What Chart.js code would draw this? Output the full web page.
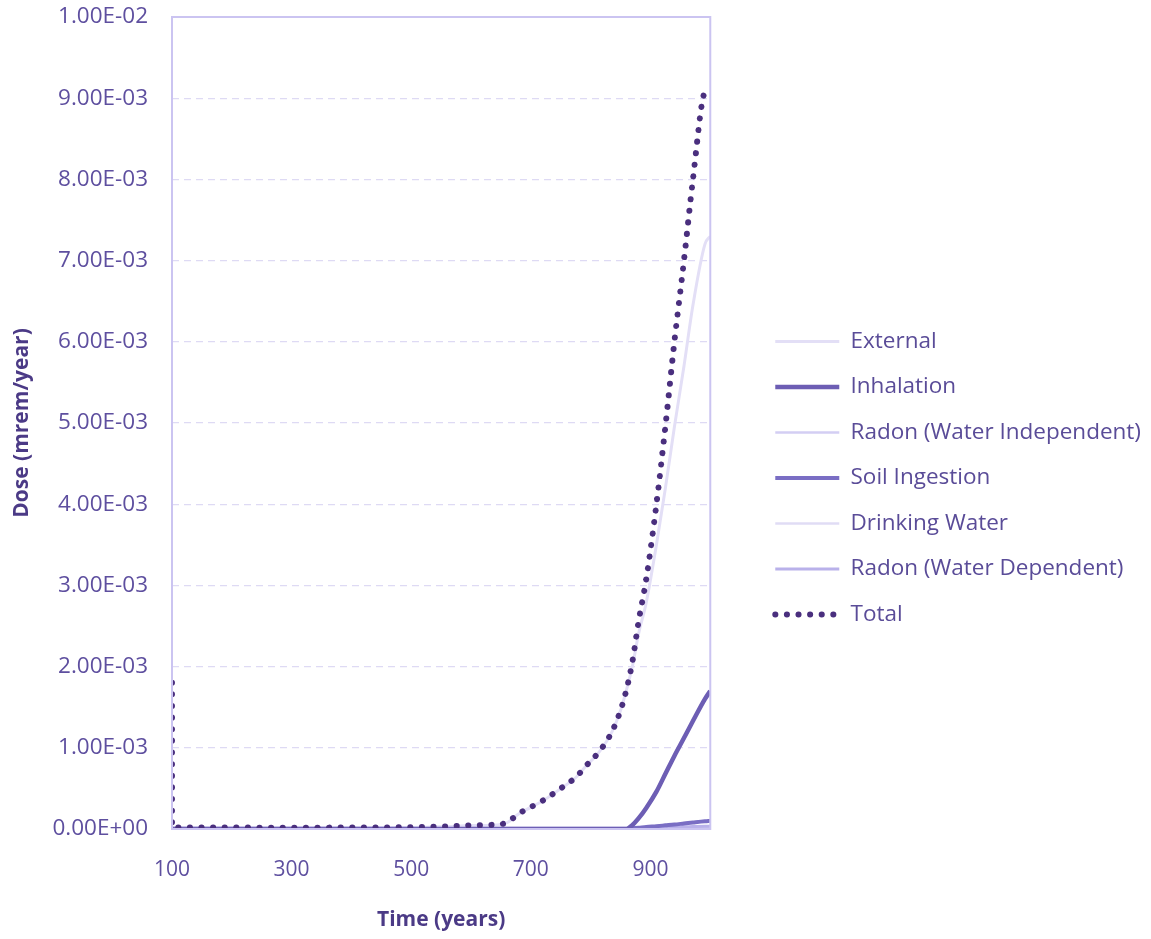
<!DOCTYPE html>
<html>
<head>
<meta charset="utf-8">
<script src="https://cdn.jsdelivr.net/npm/chart.js@4.4.0/dist/chart.umd.min.js"></script>
<style>
  html, body { margin: 0; padding: 0; background: #ffffff; }
  #wrap { width: 1151px; height: 939px; }
</style>
</head>
<body>
<div id="wrap"><canvas id="c" width="1151" height="939"></canvas></div>
<script>
// ---- data ----
const years = [100, 100, 200, 300, 400, 500, 550, 600, 650, 660, 680, 700, 720, 750, 777, 790, 815, 835, 849, 860, 870, 880, 893, 910, 925, 940, 956, 971, 991, 1000];

const external = [1.5e-5, 1.5e-5, 1.4e-5, 1.3e-5, 1.5e-5, 1.9e-5, 2.7e-5, 4.2e-5, 5.7e-5, 7.7e-5, 1.87e-4, 2.67e-4, 3.47e-4, 4.97e-4, 6.47e-4, 7.57e-4, 9.57e-4, 1.187e-3, 1.437e-3, 1.717e-3, 2.01e-3, 2.4e-3, 2.79e-3, 3.5e-3, 4.2e-3, 4.95e-3, 5.7e-3, 6.45e-3, 7.2e-3, 7.3e-3];
const inhalation = [0, 0, 0, 0, 0, 0, 0, 0, 0, 0, 0, 0, 0, 0, 0, 0, 0, 0, 0, 0, 5e-5, 1.3e-4, 2.6e-4, 4.6e-4, 6.8e-4, 9.0e-4, 1.12e-3, 1.33e-3, 1.6e-3, 1.7e-3];
const radonWI = [8e-6, 8e-6, 8e-6, 8e-6, 8e-6, 8e-6, 8e-6, 8e-6, 8e-6, 8e-6, 8e-6, 8e-6, 8e-6, 8e-6, 8e-6, 8e-6, 8e-6, 8e-6, 8e-6, 8e-6, 8e-6, 8e-6, 8e-6, 8e-6, 8e-6, 8e-6, 8e-6, 8e-6, 8e-6, 8e-6];
const soilIngestion = [0, 0, 0, 0, 0, 0, 0, 0, 0, 0, 0, 0, 0, 0, 0, 0, 0, 0, 0, 0, 8e-6, 1.5e-5, 2.5e-5, 3.5e-5, 4.5e-5, 5.5e-5, 6.8e-5, 8e-5, 9.5e-5, 1e-4];
const drinkingWater = [5e-6, 5e-6, 5e-6, 5e-6, 5e-6, 5e-6, 5e-6, 5e-6, 5e-6, 5e-6, 5e-6, 5e-6, 5e-6, 5e-6, 5e-6, 5e-6, 5e-6, 5e-6, 5e-6, 5e-6, 5e-6, 5e-6, 5e-6, 5e-6, 5e-6, 5e-6, 5e-6, 5e-6, 5e-6, 5e-6];
const radonWD = [1e-5, 1e-5, 1e-5, 1e-5, 1e-5, 1e-5, 1e-5, 1e-5, 1e-5, 1e-5, 1e-5, 1e-5, 1e-5, 1e-5, 1e-5, 1e-5, 1e-5, 1e-5, 1e-5, 1e-5, 1.2e-5, 1.5e-5, 1.8e-5, 2e-5, 2.2e-5, 2.5e-5, 2.8e-5, 3e-5, 3.3e-5, 3.5e-5];
const total = [1.8e-3, 2e-5, 1.8e-5, 1.6e-5, 1.8e-5, 2.2e-5, 3e-5, 4.5e-5, 6e-5, 8e-5, 1.9e-4, 2.7e-4, 3.5e-4, 5e-4, 6.5e-4, 7.6e-4, 9.6e-4, 1.19e-3, 1.44e-3, 1.72e-3, 2.07e-3, 2.55e-3, 3.08e-3, 4.0e-3, 4.96e-3, 6.0e-3, 7.0e-3, 8.0e-3, 9.08e-3, 9.12e-3];

const seriesNames = ["External", "Inhalation", "Radon (Water Independent)", "Soil Ingestion", "Drinking Water", "Radon (Water Dependent)", "Total"];
const xTicks = [100, 300, 500, 700, 900];
const yMin = 0, yMax = 0.01, yStep = 0.001;

// ---- helpers ----
const pts = vals => vals.map((v, i) => ({ x: years[i], y: v }));
function sci(v) {
  let s = Number(v).toExponential(2).toUpperCase(); // e.g. 1.00E-2
  return s.replace(/E([+-])(\d)$/, 'E$10$2');
}

const FONT = "'Open Sans', 'Noto Sans', sans-serif";
const TICK_COLOR = '#5e4f9f';
const TITLE_COLOR = '#4b3a86';

const frame = {
  id: 'frame',
  afterDatasetsDraw(chart) {
    const a = chart.chartArea, ctx = chart.ctx;
    ctx.save();
    ctx.strokeStyle = '#cbc4f1';
    ctx.lineWidth = 2;
    ctx.strokeRect(a.left, a.top, a.right - a.left, a.bottom - a.top);
    ctx.restore();
  }
};

const base = { pointRadius: 0, pointHoverRadius: 0, fill: false, cubicInterpolationMode: 'monotone' };

new Chart(document.getElementById('c'), {
  type: 'line',
  data: {
    datasets: [
      { ...base, label: seriesNames[0], data: pts(external), borderColor: '#e3dff6', borderWidth: 3, order: 3 },
      { ...base, label: seriesNames[1], data: pts(inhalation), borderColor: '#6d5eb4', borderWidth: 4.5, order: 2 },
      { ...base, label: seriesNames[2], data: pts(radonWI), borderColor: '#d3cef3', borderWidth: 2.5, order: 5 },
      { ...base, label: seriesNames[3], data: pts(soilIngestion), borderColor: '#7a6ec4', borderWidth: 4, order: 2 },
      { ...base, label: seriesNames[4], data: pts(drinkingWater), borderColor: '#e0dcf5', borderWidth: 2.5, order: 6 },
      { ...base, label: seriesNames[5], data: pts(radonWD), borderColor: '#b9b1ea', borderWidth: 3, order: 4 },
      { ...base, label: seriesNames[6], data: pts(total), borderColor: '#4a2f7e', borderWidth: 6,
        borderDash: [0.1, 11.5], borderCapStyle: 'round', order: 0 }
    ]
  },
  options: {
    responsive: false,
    animation: false,
    devicePixelRatio: 1,
    layout: { padding: { top: 17, right: 0, bottom: 0, left: 6 } },
    plugins: {
      legend: {
        position: 'right',
        maxWidth: 520,
        labels: {
          usePointStyle: true,
          pointStyle: 'line',
          pointStyleWidth: 64,
          padding: 23,
          color: '#5a4c98',
          font: { family: FONT, size: 22.5 },
          sort: (a, b) => a.datasetIndex - b.datasetIndex,
          generateLabels(chart) {
            const items = Chart.defaults.plugins.legend.labels.generateLabels(chart);
            items.forEach(it => {
              const ds = chart.data.datasets[it.datasetIndex];
              it.lineDash = ds.borderDash || [];
              it.lineCap = ds.borderCapStyle || 'butt';
              it.strokeStyle = ds.borderColor;
              it.lineWidth = ds.borderWidth;
            });
            return items;
          }
        }
      },
      tooltip: { enabled: false }
    },
    scales: {
      x: {
        type: 'linear',
        min: 100, max: 1000,
        afterBuildTicks(scale) { scale.ticks = xTicks.map(v => ({ value: v })); },
        afterFit(scale) { scale.height = 110; scale.paddingLeft = 0; scale.paddingRight = 0; },
        ticks: { color: TICK_COLOR, font: { family: FONT, size: 21 }, padding: 28, maxRotation: 0, autoSkip: false,
          callback: v => String(v) },
        grid: { display: false, drawTicks: false },
        border: { display: false },
        title: { display: true, text: 'Time (years)', color: TITLE_COLOR,
          font: { family: FONT, size: 21, weight: 'bold' }, padding: { top: 4, bottom: 6 } }
      },
      y: {
        min: yMin, max: yMax,
        afterFit(scale) { scale.width = 166; scale.paddingTop = 0; scale.paddingBottom = 0; },
        ticks: { stepSize: yStep, color: TICK_COLOR, font: { family: FONT, size: 22.5 }, padding: 24,
          callback: v => sci(v) },
        grid: { color: '#dedaf4', lineWidth: 1.2, drawTicks: false },
        border: { display: false, dash: [7, 5] },
        title: { display: true, text: 'Dose (mrem/year)', color: TITLE_COLOR,
          font: { family: FONT, size: 21, weight: 'bold' }, padding: { top: 3, bottom: 0 } }
      },
      ySpace: {
        position: 'right',
        min: yMin, max: yMax,
        ticks: { display: false },
        grid: { display: false, drawTicks: false },
        border: { display: false },
        afterFit(scale) { scale.width = 42; scale.paddingTop = 0; scale.paddingBottom = 0; }
      }
    }
  },
  plugins: [frame]
});
</script>
</body>
</html>
